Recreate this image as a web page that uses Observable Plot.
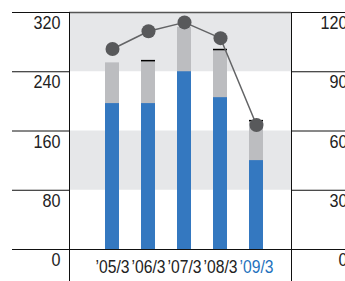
<!DOCTYPE html>
<html>
<head>
<meta charset="utf-8">
<script src="https://cdn.jsdelivr.net/npm/d3@7"></script>
<script src="https://cdn.jsdelivr.net/npm/@observablehq/plot@0.6"></script>
<style>
  html, body { margin: 0; padding: 0; background: #fff; overflow: hidden; }
  svg { display: block; }
</style>
</head>
<body>
<div id="chart"></div>
<script>
// ---- data ----
const periods = ["\u201905/3", "\u201906/3", "\u201907/3", "\u201908/3", "\u201909/3"];
const totalValues = [252, 255, 300, 270, 174];   // gray bar tops (left axis)
const blueValues = [197, 197, 240, 205, 120];    // blue bar tops (left axis)
const ratioValues = [101.5, 110.5, 115, 107, 63]; // dots (right axis)
const capFlags = [false, true, false, true, true];
const leftTicks = [0, 80, 160, 240, 320];
const rightTicks = [0, 30, 60, 90, 120];
const shadedBands = [[80, 160], [240, 320]];

const leftMax = 320, rightMax = 120;
const k = leftMax / rightMax;

const rows = periods.map((p, i) => ({
  label: p, total: totalValues[i], blue: blueValues[i],
  ratio: ratioValues[i], cap: capFlags[i], last: i === periods.length - 1
}));
const bands = shadedBands.map(([lo, hi]) => ({lo, hi}));

const font = "'Liberation Sans', Arial, sans-serif";

const chart = Plot.plot({
  width: 345,
  height: 281,
  marginTop: 12,
  marginBottom: 32,
  marginLeft: 69,
  marginRight: 54,
  style: {fontFamily: font, background: "#fff"},
  x: {domain: periods, padding: 0.6, insetLeft: 12, insetRight: 4, axis: null},
  y: {domain: [0, leftMax], axis: null},
  marks: [
    Plot.rect(bands, {y1: "lo", y2: "hi", fill: "#e6e7e9"}),
    Plot.barY(rows, {x: "label", y: "total", fill: "#bcbdc0"}),
    Plot.barY(rows, {x: "label", y: "blue", fill: "#3478c0"}),
    Plot.tickY(rows.filter(d => d.cap), {x: "label", y: "total", stroke: "#000", strokeWidth: 1.5}),
    // axis segments
    Plot.ruleY(leftTicks, {stroke: "#111", strokeWidth: 1, insetLeft: -57, insetRight: 222}),
    Plot.ruleY(leftTicks, {stroke: "#111", strokeWidth: 1, insetLeft: 222, insetRight: -54}),
    Plot.ruleY([0], {stroke: "#111", strokeWidth: 1}),
    Plot.ruleY([leftMax], {stroke: "#555", strokeWidth: 1.5}),
    Plot.frame({anchor: "left", stroke: "#111", insetBottom: -32}),
    Plot.frame({anchor: "right", stroke: "#111", insetBottom: -32}),
    // ratio line
    Plot.line(rows, {x: "label", y: d => d.ratio * k, stroke: "#636466", strokeWidth: 1.5}),
    Plot.dot(rows, {x: "label", y: d => d.ratio * k, r: 7, fill: "#58595b", stroke: "none"}),
    // tick labels
    Plot.text(leftTicks, {y: d => d, text: d => String(d), frameAnchor: "left", dx: -9, dy: 3,
      textAnchor: "end", lineAnchor: "top", fontSize: 19, fill: "#222", className: "narrow-y"}),
    Plot.text(rightTicks, {y: d => d * k, text: d => String(d), frameAnchor: "right", dx: 56, dy: 3,
      textAnchor: "end", lineAnchor: "top", fontSize: 19, fill: "#222", className: "narrow-y"}),
    Plot.text(rows, {x: "label", y: () => 0, text: "label", dy: 11, lineAnchor: "top",
      fontSize: 18, fill: d => d.last ? "#1f72bd" : "#222", className: "narrow-x"})
  ]
});
document.getElementById("chart").appendChild(chart);

// emulate the condensed typeface of the original by compressing glyphs horizontally
function condense(selector, factor) {
  chart.querySelectorAll(selector + " text").forEach(t => {
    const len = t.getComputedTextLength();
    t.setAttribute("textLength", (len * factor).toFixed(2));
    t.setAttribute("lengthAdjust", "spacingAndGlyphs");
  });
}
condense(".narrow-y", 0.85);
condense(".narrow-x", 0.87);
</script>
</body>
</html>
